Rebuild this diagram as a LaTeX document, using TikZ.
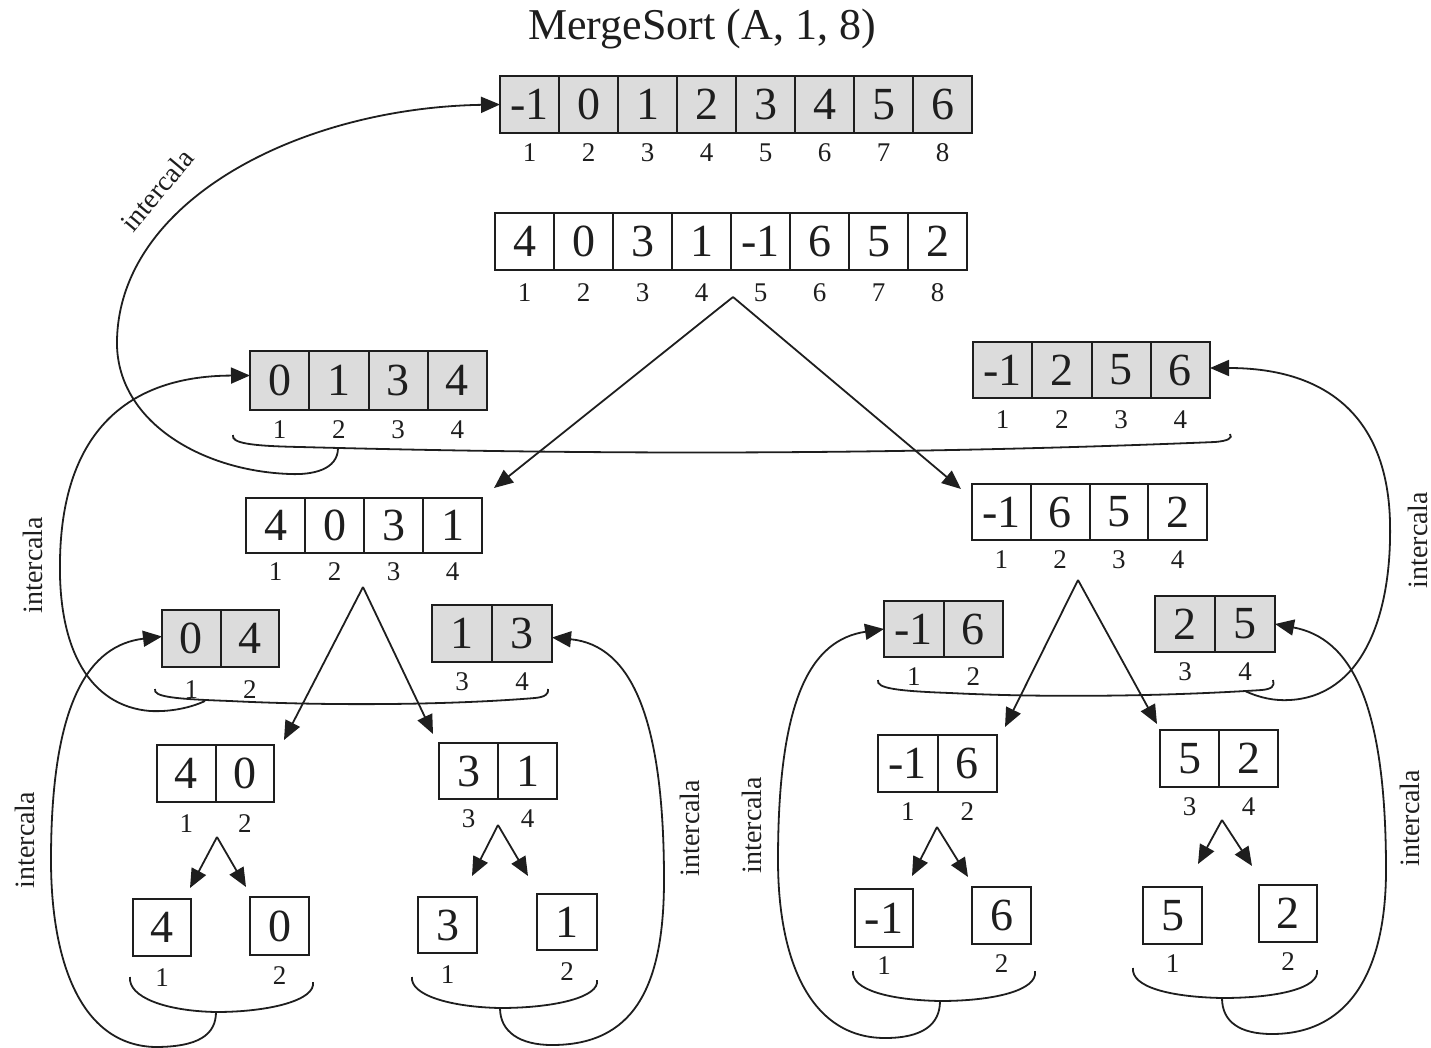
\documentclass[tikz,border=0pt]{standalone}
\usepackage{fontspec}
\setmainfont{Liberation Serif}
\usetikzlibrary{arrows.meta,calc}
\definecolor{cellgray}{RGB}{220,220,220}
\definecolor{ink}{RGB}{30,30,30}

% a row of cells: name, left x, top y, cell width, cell height, fill, values
\newcommand\cellrow[7]{%
  \foreach \v [count=\i] in {#7}{%
    \node[cellbox, fill=#6, minimum width=#4pt, minimum height=#5pt,
          anchor=north west] (#1\i) at ({#2+(\i-1)*#4},#3) {\v};
  }}
% index labels under a row: name, gap, labels
\newcommand\idxrow[3]{%
  \foreach \t [count=\i] in {#3}{%
    \node[idx] (#1i\i) at ([yshift=-#2pt]#1\i.south) {\t};
  }}

\begin{document}
\begin{tikzpicture}[x=1pt,y=-1pt,
  cellbox/.style={draw=ink, line width=2pt, inner sep=0pt, outer sep=0pt,
                  font=\fontsize{46}{46}\selectfont, text=ink},
  idx/.style={inner sep=0pt, font=\fontsize{27}{27}\selectfont, text=ink},
  conn/.style={draw=ink, line width=1.8pt, -{Triangle[length=19pt,width=16pt]}},
  brace/.style={draw=ink, line width=1.8pt},
  merge/.style={draw=ink, line width=1.8pt, -{Triangle[length=19pt,width=16pt]}},
  lbl/.style={inner sep=0pt, font=\fontsize{28}{28}\selectfont, text=ink}]

\useasboundingbox (0,0) rectangle (1431,1048);

% title
\node[anchor=base, inner sep=0pt, font=\fontsize{44}{44}\selectfont, text=ink]
  (title) at (702,40) {MergeSort (A, 1, 8)};

% level 0
\cellrow{S}{500}{76}{59}{57}{cellgray}{-1,0,1,2,3,4,5,6}
\idxrow{S}{20}{1,2,3,4,5,6,7,8}
\cellrow{U}{495}{213}{59}{57}{white}{4,0,3,1,-1,6,5,2}
\idxrow{U}{23}{1,2,3,4,5,6,7,8}

% level 1
\cellrow{Ls}{250}{351}{59.25}{59}{cellgray}{0,1,3,4}
\idxrow{Ls}{20}{1,2,3,4}
\cellrow{Rs}{973}{342}{59.25}{56}{cellgray}{-1,2,5,6}
\idxrow{Rs}{22}{1,2,3,4}
\cellrow{Lu}{246}{498}{59}{55}{white}{4,0,3,1}
\idxrow{Lu}{19}{1,2,3,4}
\cellrow{Ru}{972}{484}{58.75}{56}{white}{-1,6,5,2}
\idxrow{Ru}{20}{1,2,3,4}

% level 2
\cellrow{LLs}{162}{610}{58.5}{57}{cellgray}{0,4}
\idxrow{LLs}{23}{1,2}
\cellrow{LRs}{432}{605}{60}{57}{cellgray}{1,3}
\idxrow{LRs}{20}{3,4}
\cellrow{RLs}{884}{601}{59.5}{56}{cellgray}{-1,6}
\idxrow{RLs}{20}{1,2}
\cellrow{RRs}{1155}{596}{60}{56}{cellgray}{2,5}
\idxrow{RRs}{20}{3,4}
\cellrow{LLu}{157}{745}{58.5}{57}{white}{4,0}
\idxrow{LLu}{22}{1,2}
\cellrow{LRu}{439}{743}{59}{56}{white}{3,1}
\idxrow{LRu}{20}{3,4}
\cellrow{RLu}{878}{735}{59.5}{57}{white}{-1,6}
\idxrow{RLu}{20}{1,2}
\cellrow{RRu}{1160}{730}{59}{57}{white}{5,2}
\idxrow{RRu}{20}{3,4}

% level 3: single cells
\cellrow{Pa}{133}{899}{58}{57}{white}{4}
\idxrow{Pa}{22}{1}
\cellrow{Pb}{250}{897}{59}{58}{white}{0}
\idxrow{Pb}{21}{2}
\cellrow{Pc}{418}{897}{59}{56}{white}{3}
\idxrow{Pc}{22}{1}
\cellrow{Pd}{537}{894}{60}{56}{white}{1}
\idxrow{Pd}{22}{2}
\cellrow{Pe}{855}{889}{58}{58}{white}{-1}
\idxrow{Pe}{19}{1}
\cellrow{Pf}{972}{887}{59}{57}{white}{6}
\idxrow{Pf}{20}{2}
\cellrow{Pg}{1143}{887}{59}{57}{white}{5}
\idxrow{Pg}{20}{1}
\cellrow{Ph}{1259}{885}{58}{57}{white}{2}
\idxrow{Ph}{20}{2}

% split points and arrow ends
\coordinate (ap0) at (733,297);
\coordinate (t0a) at (494,488);
\coordinate (t0b) at (961,489);
\coordinate (ap1) at (363,587);
\coordinate (t1a) at (284,740);
\coordinate (t1b) at (433,734);
\coordinate (ap2) at (1078,580);
\coordinate (t2a) at (1005,727);
\coordinate (t2b) at (1157,724);
\coordinate (ap3) at (217,837);
\coordinate (t3a) at (190,888);
\coordinate (t3b) at (246,887);
\coordinate (ap4) at (498,825);
\coordinate (t4a) at (472,876);
\coordinate (t4b) at (528,876);
\coordinate (ap5) at (937,827);
\coordinate (t5a) at (912,876);
\coordinate (t5b) at (968,877);
\coordinate (ap6) at (1222,820);
\coordinate (t6a) at (1198,864);
\coordinate (t6b) at (1252,866);

\foreach \k in {0,...,6}{
  \draw[conn] (ap\k) -- (t\k a);
  \draw[conn] (ap\k) -- (t\k b);
}

% braces joining the two halves
\draw[brace] (233,435) .. controls (231,443) and (250,446) .. (300,447)
  .. controls (600,455) and (900,455) .. (1215,442)
  .. controls (1228,441) and (1233,438) .. (1230,434);
\draw[brace] (155,689) .. controls (153,697) and (175,699) .. (230,701)
  .. controls (330,706) and (450,705) .. (535,698)
  .. controls (545,697) and (549,694) .. (548,689);
\draw[brace] (878,680) .. controls (876,688) and (895,691) .. (950,693)
  .. controls (1050,698) and (1170,696) .. (1262,690)
  .. controls (1272,689) and (1275,686) .. (1273,680);
\draw[brace] (130,977) .. controls (128,997) and (165,1011) .. (216,1012)
  .. controls (270,1012) and (316,1000) .. (313,982);
\draw[brace] (412,977) .. controls (410,995) and (450,1007) .. (500,1008)
  .. controls (555,1008) and (600,997) .. (597,980);
\draw[brace] (853,971) .. controls (851,990) and (890,1000) .. (940,1001)
  .. controls (995,1001) and (1038,990) .. (1035,971);
\draw[brace] (1133,968) .. controls (1131,987) and (1170,997) .. (1222,998)
  .. controls (1278,998) and (1320,988) .. (1317,970);

% merge points on the braces
\coordinate (m0) at (338,448);
\coordinate (m1) at (205,701);
\coordinate (m2) at (1245,691);
\coordinate (m3) at (216,1012);
\coordinate (m4) at (500,1008);
\coordinate (m5) at (940,1001);
\coordinate (m6) at (1222,998);

% merge connectors
\draw[merge] (m0) .. controls (338,470) and (312,475) .. (290,474)
  .. controls (200,471) and (115,420) .. (117,340)
  .. controls (120,200) and (300,108) .. (S1.west);
\draw[merge] (m1) .. controls (190,708) and (170,712) .. (150,711)
  .. controls (90,706) and (58,650) .. (60,560)
  .. controls (62,440) and (120,376) .. ([yshift=5pt]Ls1.west);
\draw[merge] (m2) .. controls (1260,698) and (1275,701) .. (1290,700)
  .. controls (1360,696) and (1392,620) .. (1390,523)
  .. controls (1388,420) and (1330,368) .. ([yshift=2pt]Rs4.east);
\draw[merge] (m3) .. controls (216,1035) and (198,1047) .. (155,1047)
  .. controls (80,1045) and (51,960) .. (51,860)
  .. controls (51,700) and (90,645) .. ([yshift=2pt]LLs1.west);
\draw[merge] (m4) .. controls (500,1032) and (520,1045) .. (552,1045)
  .. controls (632,1045) and (664,990) .. (664,880)
  .. controls (664,720) and (632,645) .. ([yshift=-4pt]LRs2.east);
\draw[merge] (m5) .. controls (940,1025) and (922,1038) .. (885,1038)
  .. controls (810,1038) and (778,960) .. (778,860)
  .. controls (778,700) and (810,640) .. (RLs1.west);
\draw[merge] (m6) .. controls (1222,1022) and (1240,1034) .. (1272,1034)
  .. controls (1350,1034) and (1386,970) .. (1386,870)
  .. controls (1386,700) and (1350,638) .. (RRs2.east);

% labels
\node[lbl, rotate=50] (l0) at (157,190) {intercala};
\node[lbl, rotate=90] (l1) at (33,565) {intercala};
\node[lbl, rotate=90] (l2) at (25,840) {intercala};
\node[lbl, rotate=90] (l3) at (690,828) {intercala};
\node[lbl, rotate=90] (l4) at (752,825) {intercala};
\node[lbl, rotate=90] (l5) at (1418,540) {intercala};
\node[lbl, rotate=90] (l6) at (1410,818) {intercala};

\end{tikzpicture}
\end{document}
